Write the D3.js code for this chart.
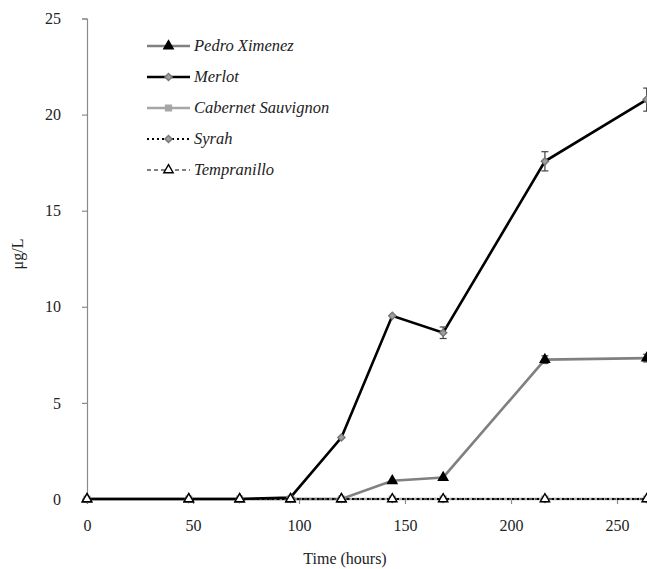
<!DOCTYPE html>
<html><head><meta charset="utf-8">
<script src="https://cdn.jsdelivr.net/npm/d3@7"></script>
<style>body{margin:0;background:#fff}svg{display:block}</style>
</head><body>
<script>
const hours = [0, 48, 72, 96, 120, 144, 168, 216, 264];
const pedroXimenez = [0, 0, 0, 0, 0, 0.95, 1.12, 7.25, 7.33];
const pedroErr =     [0, 0, 0, 0, 0, 0.05, 0.05, 0.2, 0.2];
const merlot =       [0, 0, 0, 0.08, 3.2, 9.53, 8.65, 17.57, 20.78];
const merlotErr =    [0, 0, 0, 0, 0, 0.1, 0.3, 0.5, 0.6];
const cabernet =     [0, 0, 0, 0, 0, 0, 0, 0, 0];
const syrah =        [0, 0, 0, 0, 0, 0, 0, 0, 0];
const tempranillo =  [0, 0, 0, 0, 0, 0, 0, 0, 0];
const xTicks = [0, 50, 100, 150, 200, 250];
const yTicks = [0, 5, 10, 15, 20, 25];
const seriesNames = ["Pedro Ximenez", "Merlot", "Cabernet Sauvignon", "Syrah", "Tempranillo"];

const W = 647, H = 569;
const svg = d3.select("body").append("svg").attr("width", W).attr("height", H);
const x = d3.scaleLinear().domain([0, 250]).range([87, 617]);
const y = d3.scaleLinear().domain([0, 25]).range([499, 18.5]);
const font = "'Liberation Serif','Times New Roman',serif";

// axes
const yAxis = svg.append("g").attr("transform", `translate(${x(0)},0)`)
  .call(d3.axisLeft(y).tickValues(yTicks).tickSize(5).tickPadding(21).tickFormat(d3.format("d")));
const xAxis = svg.append("g").attr("transform", `translate(0,${y(0)})`)
  .call(d3.axisBottom(x).tickValues(xTicks).tickSize(5).tickPadding(16).tickFormat(d3.format("d")));
[yAxis, xAxis].forEach(g => {
  g.select(".domain").attr("stroke", "#8a8a8a").attr("stroke-width", 1.2);
  g.selectAll(".tick line").attr("stroke", "#8a8a8a").attr("stroke-width", 1.2);
  g.selectAll("text").attr("font-family", font).attr("font-size", 16).attr("fill", "#222");
});
xAxis.select(".domain").attr("d", `M${x(0)},0H${x(270)}`);

svg.append("text").attr("x", 345).attr("y", 564).attr("text-anchor", "middle")
  .attr("font-family", font).attr("font-size", 16).attr("fill", "#222").text("Time (hours)");
svg.append("text").attr("transform", "translate(23,254) rotate(-90)").attr("text-anchor", "middle")
  .attr("font-family", font).attr("font-size", 16).attr("fill", "#222").text("μg/L");

const styles = [
  {vals: pedroXimenez, err: pedroErr, stroke: "#808080", sw: 2.6, dash: null, sym: d3.symbolTriangle, rot: 0, size: 38, fill: "#000", mstroke: "#000"},
  {vals: merlot, err: merlotErr, stroke: "#000", sw: 2.6, dash: null, sym: d3.symbolSquare, rot: 45, size: 26, fill: "#a0a0a0", mstroke: "#777"},
  {vals: cabernet, err: null, stroke: "#a6a6a6", sw: 2.6, dash: null, sym: d3.symbolSquare, rot: 0, size: 34, fill: "#a6a6a6", mstroke: "#a6a6a6"},
  {vals: syrah, err: null, stroke: "#000", sw: 2.2, dash: "2,3", sym: d3.symbolSquare, rot: 45, size: 26, fill: "#a0a0a0", mstroke: "#777"},
  {vals: tempranillo, err: null, stroke: "#000", sw: 1, dash: "4,3", sym: d3.symbolTriangle, rot: 0, size: 38, fill: "#fff", mstroke: "#000"}
];

const line = d3.line().x(d => x(d[0])).y(d => y(d[1]));
const drawOrder = [2, 0, 3, 1, 4];
drawOrder.forEach(i => {
  const s = styles[i];
  const pts = hours.map((h, j) => [h, s.vals[j]]);
  svg.append("path").attr("d", line(pts)).attr("fill", "none")
    .attr("stroke", s.stroke).attr("stroke-width", s.sw)
    .attr("stroke-dasharray", s.dash);
  if (s.err) {
    hours.forEach((h, j) => {
      const e = s.err[j];
      if (e <= 0.15) return;
      const cx = x(h), y1 = y(s.vals[j] + e), y2 = y(s.vals[j] - e);
      const g = svg.append("g").attr("stroke", "#444").attr("stroke-width", 1.2);
      g.append("line").attr("x1", cx).attr("x2", cx).attr("y1", y1).attr("y2", y2);
      g.append("line").attr("x1", cx - 3.5).attr("x2", cx + 3.5).attr("y1", y1).attr("y2", y1);
      g.append("line").attr("x1", cx - 3.5).attr("x2", cx + 3.5).attr("y1", y2).attr("y2", y2);
    });
  }
  svg.append("g").selectAll("path").data(pts).join("path")
    .attr("transform", d => `translate(${x(d[0])},${y(d[1])}) rotate(${s.rot})`)
    .attr("d", d3.symbol().type(s.sym).size(s.size))
    .attr("fill", s.fill).attr("stroke", s.mstroke).attr("stroke-width", 1.4);
});

// legend
const leg = svg.append("g");
seriesNames.forEach((name, i) => {
  const s = styles[i];
  const ly = 46 + i * 31;
  leg.append("line").attr("x1", 147).attr("x2", 190).attr("y1", ly).attr("y2", ly)
    .attr("stroke", s.stroke).attr("stroke-width", s.sw).attr("stroke-dasharray", s.dash);
  leg.append("path").attr("transform", `translate(168.5,${ly}) rotate(${s.rot})`)
    .attr("d", d3.symbol().type(s.sym).size(s.size)).attr("fill", s.fill)
    .attr("stroke", s.mstroke).attr("stroke-width", 1.4);
  leg.append("text").attr("x", 194).attr("y", ly + 5).attr("font-family", font)
    .attr("font-style", "italic").attr("font-size", 16.5).attr("fill", "#222").text(name);
});
</script>
</body></html>
